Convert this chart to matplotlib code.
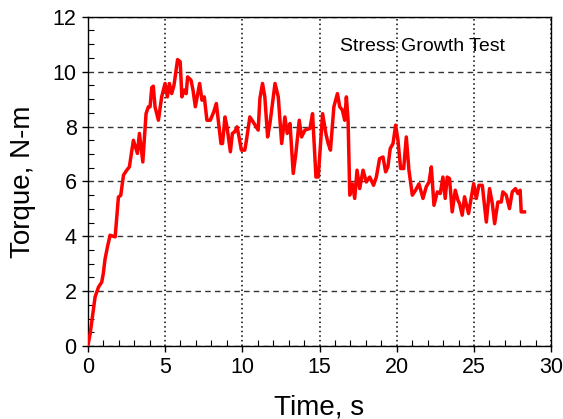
import matplotlib
matplotlib.use('Agg')
import matplotlib.pyplot as plt
from matplotlib.ticker import MultipleLocator

plt.rcParams['font.family'] = ['Liberation Sans', 'DejaVu Sans']

# torque trace (time in s, torque in N-m)
t = [0.0, 0.15, 0.47, 0.69, 0.9, 1.0, 1.12, 1.27, 1.44, 1.77, 1.98, 2.13, 2.31, 2.52,
     2.69, 2.95, 3.21, 3.34, 3.56, 3.77, 3.92, 4.03, 4.14, 4.24, 4.35, 4.57, 4.78, 5.0,
     5.15, 5.28, 5.43, 5.58, 5.81, 5.98, 6.09, 6.24, 6.37, 6.46, 6.68, 6.81, 6.96, 7.24,
     7.39, 7.54, 7.71, 7.93, 8.15, 8.32, 8.62, 8.72, 8.88, 9.01, 9.23, 9.36, 9.51, 9.66,
     9.79, 9.94, 10.16, 10.27, 10.49, 10.7, 11.03, 11.14, 11.31, 11.46, 11.64, 11.79,
     12.12, 12.33, 12.55, 12.76, 12.91, 13.09, 13.3, 13.47, 13.69, 13.84, 14.06, 14.38,
     14.55, 14.77, 14.92, 15.2, 15.41, 15.56, 15.71, 15.93, 16.16, 16.31, 16.48, 16.63,
     16.74, 16.85, 16.96, 17.13, 17.28, 17.43, 17.6, 17.82, 18.03, 18.25, 18.5, 18.68,
     18.89, 19.11, 19.28, 19.43, 19.58, 19.76, 19.93, 20.08, 20.25, 20.45, 20.62, 20.79,
     21.01, 21.22, 21.44, 21.7, 21.91, 22.09, 22.24, 22.41, 22.63, 22.82, 22.99, 23.14,
     23.27, 23.42, 23.59, 23.79, 23.96, 24.07, 24.24, 24.39, 24.65, 24.82, 24.98, 25.15,
     25.32, 25.54, 25.8, 26.01, 26.19, 26.34, 26.55, 26.77, 26.87, 27.09, 27.3, 27.48,
     27.69, 27.84, 27.99, 28.06, 28.27]
torque = [0.0, 0.45, 1.79, 2.15, 2.33, 2.64, 3.19, 3.61, 4.04, 3.98, 5.43, 5.49, 6.23, 6.41,
          6.53, 7.5, 7.02, 7.75, 6.71, 8.47, 8.72, 8.72, 9.42, 9.47, 8.72, 8.23, 9.08, 9.57,
          9.08, 9.57, 9.2, 9.51, 10.44, 10.36, 9.08, 9.33, 9.2, 9.81, 9.69, 9.33, 8.72, 9.57,
          8.96, 9.08, 8.23, 8.23, 8.53, 8.84, 7.38, 7.38, 8.35, 7.99, 7.08, 7.75, 7.81, 7.99,
          7.62, 7.14, 7.14, 7.5, 8.35, 8.17, 7.87, 9.02, 9.57, 9.08, 7.62, 8.11,
          9.57, 9.08, 7.38, 8.35, 7.75, 8.11, 6.29, 7.02, 8.23, 7.62, 7.87, 7.93,
          8.47, 6.16, 6.16, 8.47, 7.75, 7.38, 7.14, 8.72, 9.2, 8.72, 8.6, 8.23,
          9.08, 8.23, 5.5, 5.91, 5.38, 6.41, 5.74, 6.41, 5.98, 6.16, 5.86, 6.16,
          6.83, 6.89, 6.35, 6.53, 7.2, 7.38, 8.05, 7.5, 6.47, 6.47, 7.62, 6.41,
          5.5, 5.68, 5.91, 5.38, 5.8, 5.98, 6.53, 5.13, 5.62, 5.56, 6.16, 5.38,
          6.16, 6.1, 4.89, 5.68, 5.32, 5.19, 4.77, 5.44, 4.83, 5.38, 5.92, 5.38,
          5.86, 5.86, 4.52, 5.74, 5.19, 4.46, 5.25, 5.25, 5.62, 5.5, 5.01, 5.62,
          5.74, 5.56, 5.68, 4.89, 4.89]

fig = plt.figure(figsize=(5.63, 4.19), dpi=100)
ax = fig.add_axes([0.156, 0.174, 0.823, 0.786])

ax.plot(t, torque, color='#ff0000', lw=2.5, zorder=3)

ax.set_xlim(0, 30)
ax.set_ylim(0, 12)
ax.xaxis.set_major_locator(MultipleLocator(5))
ax.xaxis.set_minor_locator(MultipleLocator(1))
ax.yaxis.set_major_locator(MultipleLocator(2))
ax.yaxis.set_minor_locator(MultipleLocator(0.5))

ax.grid(axis='y', which='major', color='#333333', ls=(0, (4, 3)), lw=1)
ax.grid(axis='x', which='major', color='#000000', ls=(0, (1, 2)), lw=1.1)

ax.tick_params(which='major', direction='out', length=4, width=1, labelsize=15.5, pad=4)
ax.tick_params(which='minor', direction='in', length=4, width=0.8)
for s in ax.spines.values():
    s.set_linewidth(1)

ax.set_xlabel('Time, s', fontsize=20, va='baseline')
ax.xaxis.set_label_coords(0.5, -0.207)
ax.set_ylabel('Torque, N-m', fontsize=20, va='center')
ax.yaxis.set_label_coords(-0.140, 0.5)

ax.text(16.3, 10.9, 'Stress Growth Test', fontsize=14, va='center', ha='left')

fig.savefig('out.png', dpi=100)
